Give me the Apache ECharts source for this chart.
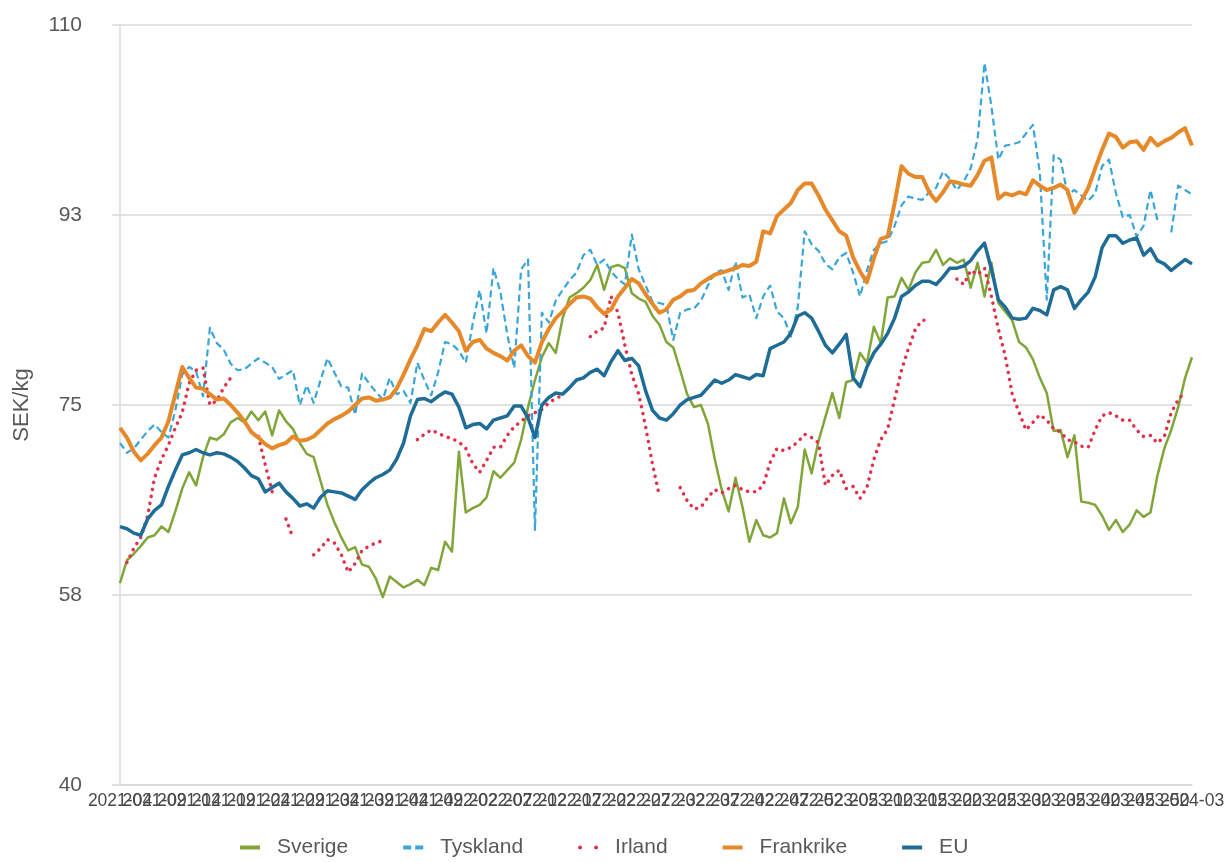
<!DOCTYPE html>
<html>
<head>
<meta charset="utf-8">
<script src="https://cdn.jsdelivr.net/npm/echarts@6/dist/echarts.min.js"></script>
<style>
html,body{margin:0;padding:0;background:#fff;}
#chart{width:1226px;height:863px;}
</style>
</head>
<body>
<div id="chart"></div>
<script>
const weeks = [
"2021-04","2021-05","2021-06","2021-07","2021-08","2021-09","2021-10","2021-11","2021-12","2021-13",
"2021-14","2021-15","2021-16","2021-17","2021-18","2021-19","2021-20","2021-21","2021-22","2021-23",
"2021-24","2021-25","2021-26","2021-27","2021-28","2021-29","2021-30","2021-31","2021-32","2021-33",
"2021-34","2021-35","2021-36","2021-37","2021-38","2021-39","2021-40","2021-41","2021-42","2021-43",
"2021-44","2021-45","2021-46","2021-47","2021-48","2021-49","2021-50","2021-51","2021-52",
"2022-01","2022-02","2022-03","2022-04","2022-05","2022-06","2022-07","2022-08","2022-09","2022-10",
"2022-11","2022-12","2022-13","2022-14","2022-15","2022-16","2022-17","2022-18","2022-19","2022-20",
"2022-21","2022-22","2022-23","2022-24","2022-25","2022-26","2022-27","2022-28","2022-29","2022-30",
"2022-31","2022-32","2022-33","2022-34","2022-35","2022-36","2022-37","2022-38","2022-39","2022-40",
"2022-41","2022-42","2022-43","2022-44","2022-45","2022-46","2022-47","2022-48","2022-49","2022-50",
"2022-51","2022-52",
"2023-01","2023-02","2023-03","2023-04","2023-05","2023-06","2023-07","2023-08","2023-09","2023-10",
"2023-11","2023-12","2023-13","2023-14","2023-15","2023-16","2023-17","2023-18","2023-19","2023-20",
"2023-21","2023-22","2023-23","2023-24","2023-25","2023-26","2023-27","2023-28","2023-29","2023-30",
"2023-31","2023-32","2023-33","2023-34","2023-35","2023-36","2023-37","2023-38","2023-39","2023-40",
"2023-41","2023-42","2023-43","2023-44","2023-45","2023-46","2023-47","2023-48","2023-49","2023-50",
"2023-51","2023-52",
"2024-01","2024-02","2024-03"
];

const sverige = [
58.6,60.7,61.3,62.0,62.8,63.0,63.8,63.3,65.2,67.3,
68.8,67.6,70.2,72.0,71.8,72.3,73.4,73.8,73.4,74.4,
73.6,74.4,72.2,74.5,73.5,72.8,71.5,70.5,70.2,68.0,
65.8,64.2,62.8,61.6,61.9,60.3,60.1,59.0,57.3,59.2,
58.7,58.2,58.5,58.9,58.4,60.0,59.8,62.4,61.5,70.7,
65.1,65.5,65.8,66.5,68.9,68.3,69.0,69.7,71.8,74.8,
77.3,79.4,80.7,79.8,83.0,84.9,85.3,85.8,86.5,87.9,
85.6,87.7,87.9,87.6,85.3,84.8,84.5,83.2,82.4,80.8,
80.3,78.2,76.0,74.8,75.0,73.3,70.0,67.2,65.2,68.3,
65.6,62.4,64.4,63.0,62.8,63.2,66.4,64.1,65.6,70.9,
68.7,71.7,73.9,76.1,73.8,77.1,77.3,79.8,78.9,82.2,
80.7,84.9,85.0,86.7,85.6,87.2,88.1,88.2,89.3,87.9,
88.5,88.1,88.4,85.8,88.1,85.0,88.1,84.4,83.6,82.8,
80.8,80.3,79.2,77.5,76.1,72.6,72.7,70.2,72.2,66.1,
66.0,65.8,64.8,63.5,64.4,63.3,64.0,65.3,64.7,65.1,
68.5,71.0,72.7,74.8,77.5,79.4
];

const tyskland = [
71.5,70.6,71.0,71.8,72.6,73.2,72.5,72.0,74.5,77.8,
78.5,78.1,75.8,82.1,80.7,80.1,78.8,78.2,78.3,78.8,
79.3,78.9,78.5,77.4,77.8,78.2,75.0,76.8,75.2,77.3,
79.3,78.0,76.7,76.6,74.1,77.9,77.0,76.2,75.5,77.5,
76.0,76.3,75.2,78.9,77.3,75.9,78.0,80.8,80.6,80.0,
78.9,82.5,85.6,81.6,87.6,85.4,81.5,78.4,87.5,88.4,
63.5,83.5,82.6,84.6,85.6,86.5,87.2,88.8,89.3,87.9,
88.4,87.3,86.6,86.1,90.7,87.5,86.0,84.5,84.4,84.2,
81.0,83.5,83.8,83.9,84.6,86.0,87.2,87.4,85.6,88.2,
84.9,85.2,83.0,85.0,86.0,83.6,83.0,81.3,84.0,91.0,
89.8,89.2,88.0,87.5,88.6,89.0,87.2,85.0,87.4,89.3,
89.9,90.1,91.5,93.4,94.2,94.0,93.9,94.6,95.0,96.5,
95.8,94.8,95.6,96.8,99.5,106.5,102.5,97.6,98.9,99.0,
99.2,100.0,100.8,96.4,84.7,98.0,97.6,94.4,94.8,94.3,
93.8,94.5,97.0,97.6,94.5,92.3,92.5,90.5,91.5,94.8,
92.0,null,90.9,95.2,94.8,94.4
];

const irland = [
null,60.5,61.8,62.8,64.8,68.3,70.0,71.3,72.9,74.3,
77.0,78.2,78.4,75.0,75.4,76.6,77.5,null,null,null,
72.1,69.5,67.0,null,64.5,62.8,null,null,61.2,61.8,
62.6,62.3,61.2,59.6,60.4,61.6,62.0,62.3,62.5,null,
null,null,null,71.8,72.3,72.7,72.4,72.1,71.9,71.6,
71.0,69.6,68.8,69.9,71.1,71.1,72.2,73.0,73.5,74.0,
74.3,74.6,75.2,75.6,75.9,null,null,null,81.3,81.8,
82.1,85.0,83.5,80.5,77.8,76.0,73.0,69.5,66.6,null,
null,67.4,66.2,65.4,65.6,66.5,67.2,66.9,67.3,67.6,
67.2,67.0,67.0,67.6,69.7,71.0,70.8,71.1,71.6,72.3,
72.0,71.5,67.6,68.5,69.0,67.3,67.5,66.4,67.4,70.0,
71.8,72.8,75.5,78.2,80.2,82.0,82.8,82.8,null,null,
null,86.6,86.1,87.4,87.0,87.6,85.0,82.0,79.5,76.0,
74.3,72.7,73.4,74.1,73.6,72.8,72.5,71.8,71.6,71.2,
71.1,72.7,74.0,74.3,74.0,73.6,73.6,72.7,72.1,72.2,
71.5,72.1,74.3,75.5,76.2,null
];

const frankrike = [
72.9,72.0,70.7,69.9,70.5,71.3,72.0,73.5,76.0,78.5,
77.5,76.6,76.5,76.0,75.5,75.6,75.0,74.3,73.5,72.5,
72.0,71.4,71.0,71.3,71.5,72.1,71.7,71.8,72.1,72.7,
73.3,73.7,74.0,74.4,75.0,75.6,75.7,75.4,75.5,75.7,
76.5,77.8,79.2,80.5,82.0,81.8,82.6,83.3,82.6,81.8,
80.0,80.8,81.0,80.2,79.8,79.5,79.1,80.0,80.5,79.5,
78.9,80.8,82.0,83.0,83.6,84.3,84.9,85.0,84.8,84.0,
83.4,83.8,85.0,85.8,86.6,86.2,85.2,84.3,83.5,83.8,
84.7,85.0,85.5,85.6,86.2,86.6,87.0,87.2,87.4,87.6,
87.9,87.8,88.2,91.0,90.8,92.4,93.0,93.6,94.8,95.4,
95.4,94.3,93.0,92.0,91.0,90.6,88.6,87.3,86.3,88.5,
90.3,90.5,93.6,97.0,96.3,96.0,96.0,94.6,93.8,94.6,
95.6,95.5,95.3,95.2,96.2,97.5,97.8,94.0,94.5,94.3,
94.6,94.4,95.7,95.2,94.8,95.0,95.3,94.8,92.7,93.8,
95.0,96.8,98.5,100.0,99.7,98.7,99.2,99.3,98.5,99.6,
98.9,99.3,99.6,100.1,100.5,98.9
];

const eu = [
63.8,63.6,63.2,63.0,64.5,65.3,65.8,67.5,69.0,70.4,
70.6,70.9,70.6,70.4,70.6,70.5,70.2,69.8,69.2,68.5,
68.2,67.0,67.4,67.8,67.0,66.4,65.7,65.9,65.5,66.5,
67.1,67.0,66.9,66.6,66.3,67.2,67.8,68.3,68.6,69.0,
70.0,71.5,74.0,75.5,75.6,75.3,75.8,76.2,76.0,74.8,
72.9,73.2,73.3,72.8,73.6,73.8,74.0,74.9,74.9,73.8,
72.0,75.0,75.7,76.1,76.0,76.6,77.3,77.5,78.0,78.3,
77.7,79.0,80.0,79.1,79.3,78.6,76.3,74.5,73.8,73.6,
74.2,75.0,75.5,75.7,75.9,76.6,77.3,77.0,77.3,77.8,
77.6,77.4,77.8,77.7,80.2,80.5,80.8,81.6,83.2,83.5,
83.0,81.8,80.5,79.8,80.6,81.5,77.5,76.7,78.5,79.8,
80.6,81.6,83.0,85.0,85.4,86.0,86.4,86.4,86.1,86.8,
87.6,87.6,87.8,88.3,89.2,89.9,87.5,84.7,84.0,83.0,
82.9,83.0,83.9,83.7,83.3,85.6,85.9,85.6,83.9,84.7,
85.4,86.8,89.5,90.6,90.6,89.9,90.2,90.4,88.8,89.4,
88.3,88.0,87.4,87.9,88.4,88.0
];

const yTicks = { min: 40, max: 110, step: 17.5 };
const labelStep = 5;

const FONT = '"Liberation Sans", Arial, Helvetica, sans-serif';
const chart = echarts.init(document.getElementById('chart'), null, { renderer: 'canvas' });

const ICON_SOLID = 'path://M0,0H20V4H0Z';
const ICON_DASH = 'path://M0,0H8V4H0Z M12,0H20V4H12Z';
const ICON_DOT = 'path://M2,0A2,2 0 1 1 2,4A2,2 0 1 1 2,0Z M18,0A2,2 0 1 1 18,4A2,2 0 1 1 18,0Z';

function lineSeries(name, data, color, width, type, cap) {
  return {
    name: name,
    type: 'line',
    xAxisIndex: 0,
    data: data,
    symbol: 'none',
    showSymbol: false,
    connectNulls: false,
    animation: false,
    lineStyle: { color: color, width: width, type: type, cap: cap || 'butt', join: 'round' },
    itemStyle: { color: color }
  };
}

// Labels every 5th week; split over two stacked copies of the axis so that
// overlapping neighbours are all drawn (as in the reference).
function xAxisDef(phase, primary) {
  return {
    type: 'category',
    data: weeks,
    boundaryGap: false,
    position: 'bottom',
    offset: 0,
    axisLine: { show: primary, lineStyle: { color: '#d9d9d9', width: 1.5 } },
    axisTick: { show: false },
    axisLabel: {
      interval: function (idx) { return idx % (labelStep * 2) === phase; },
      hideOverlap: false,
      alignMinLabel: 'center', alignMaxLabel: 'center',
      color: '#484848', fontSize: 17.5, margin: 7, fontFamily: FONT
    },
    splitLine: { show: false }
  };
}

chart.setOption({
  animation: false,
  textStyle: { fontFamily: FONT },
  grid: { left: 120, right: 34, top: 25, bottom: 78, containLabel: false, outerBoundsMode: 'none' },
  xAxis: [xAxisDef(0, true), xAxisDef(labelStep, false)],
  yAxis: {
    type: 'value',
    min: yTicks.min,
    max: yTicks.max,
    interval: yTicks.step,
    name: 'SEK/kg',
    nameLocation: 'middle',
    nameRotate: 90,
    nameGap: 87,
    nameTextStyle: { color: '#595959', fontSize: 22, fontFamily: FONT },
    axisLine: { show: true, lineStyle: { color: '#d9d9d9', width: 1.5 } },
    axisTick: { show: true, length: 8, lineStyle: { color: '#d9d9d9', width: 1.5 } },
    axisLabel: { color: '#595959', fontSize: 21, margin: 38, fontFamily: FONT,
      formatter: function (v) { return String(Math.round(v)); } },
    splitLine: { show: true, lineStyle: { color: '#d9d9d9', width: 1.5 } }
  },
  legend: {
    top: 832,
    left: 235,
    itemWidth: 20,
    itemHeight: 4,
    itemGap: 55,
    textStyle: { color: '#595959', fontSize: 21, fontFamily: FONT, padding: [0, 0, 0, 12] },
    data: [
      { name: 'Sverige', icon: ICON_SOLID },
      { name: 'Tyskland', icon: ICON_DASH },
      { name: 'Irland', icon: ICON_DOT },
      { name: 'Frankrike', icon: ICON_SOLID },
      { name: 'EU', icon: ICON_SOLID }
    ]
  },
  series: [
    lineSeries('Sverige', sverige, '#80a63a', 2.5, 'solid'),
    lineSeries('Tyskland', tyskland, '#3aa5d8', 2.2, [7, 4]),
    lineSeries('Irland', irland, '#e0304a', 3.5, [0.1, 7], 'round'),
    lineSeries('Frankrike', frankrike, '#e5892a', 4, 'solid'),
    lineSeries('EU', eu, '#1f6c97', 3.5, 'solid')
  ]
});
</script>
</body>
</html>
